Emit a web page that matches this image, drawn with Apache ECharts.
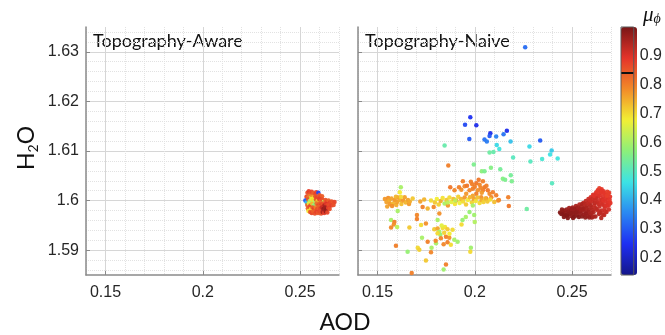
<!DOCTYPE html>
<html>
<head>
<meta charset="utf-8">
<script src="https://cdn.jsdelivr.net/npm/echarts@6/dist/echarts.min.js"></script>
<style>
  html, body { margin: 0; padding: 0; background: #ffffff; }
  #chart { width: 665px; height: 335px; }
</style>
</head>
<body>
<div id="chart"></div>
<script>
// Axis ranges shared by both panels
const xRange = [0.14, 0.27];
const yRange = [1.585, 1.635];
const muRange = [0.14, 1.0];
// Major tick positions
const xMajorTicks = [0.15, 0.2, 0.25];
const yMajorTicks = [1.59, 1.6, 1.61, 1.62, 1.63];
// Threshold drawn across the colour bar
const muMarker = 0.84;
const panelTitles = ['Topography-Aware', 'Topography-Naive'];

// [AOD, H2O, mu_phi] for the topography-aware retrieval
const awarePoints = [
  [0.2538,1.6016,0.86],[0.2545,1.6019,0.88],[0.2552,1.6014,0.85],[0.2560,1.6018,0.87],[0.2568,1.6015,0.84],
  [0.2575,1.6012,0.86],[0.2583,1.6017,0.88],[0.2594,1.6016,0.28],[0.2600,1.6011,0.85],
  [0.2533,1.6008,0.87],[0.2540,1.6006,0.83],[0.2548,1.6009,0.80],[0.2556,1.6005,0.62],[0.2563,1.6008,0.78],
  [0.2571,1.6006,0.72],[0.2579,1.6009,0.86],[0.2587,1.6005,0.88],[0.2596,1.6008,0.85],[0.2605,1.6006,0.87],
  [0.2613,1.6009,0.84],
  [0.2527,1.6000,0.30],[0.2534,1.5996,0.42],[0.2542,1.6002,0.85],[0.2550,1.5999,0.58],[0.2558,1.6003,0.68],
  [0.2566,1.6000,0.70],[0.2574,1.5997,0.62],[0.2582,1.6002,0.86],[0.2590,1.5999,0.72],[0.2598,1.6003,0.88],
  [0.2606,1.5998,0.83],[0.2614,1.6002,0.86],[0.2622,1.5997,0.63],[0.2630,1.6001,0.85],[0.2638,1.5998,0.87],
  [0.2646,1.6000,0.84],[0.2654,1.5996,0.88],[0.2662,1.5998,0.86],[0.2670,1.5995,0.85],[0.2677,1.5997,0.87],
  [0.2537,1.5991,0.84],[0.2545,1.5994,0.66],[0.2553,1.5990,0.86],[0.2561,1.5993,0.74],[0.2569,1.5990,0.60],
  [0.2577,1.5992,0.56],[0.2585,1.5994,0.82],[0.2593,1.5990,0.87],[0.2601,1.5993,0.85],[0.2609,1.5991,0.88],
  [0.2617,1.5994,0.86],[0.2625,1.5990,0.95],[0.2633,1.5993,0.90],[0.2641,1.5991,0.87],[0.2649,1.5989,0.86],
  [0.2660,1.5990,0.88],[0.2672,1.5991,0.86],
  [0.2540,1.5984,0.83],[0.2548,1.5987,0.86],[0.2556,1.5983,0.70],[0.2564,1.5986,0.85],[0.2572,1.5983,0.88],
  [0.2580,1.5986,0.80],[0.2588,1.5983,0.86],[0.2596,1.5987,0.84],[0.2604,1.5984,0.87],[0.2612,1.5986,0.92],
  [0.2620,1.5983,0.97],[0.2628,1.5986,0.96],[0.2636,1.5982,0.98],[0.2644,1.5985,0.88],[0.2652,1.5983,0.86],
  [0.2543,1.5979,0.69],[0.2552,1.5977,0.85],[0.2560,1.5975,0.87],[0.2568,1.5978,0.84],[0.2576,1.5974,0.86],
  [0.2584,1.5977,0.88],[0.2592,1.5975,0.85],[0.2600,1.5978,0.87],[0.2608,1.5974,0.86],[0.2616,1.5977,0.95],
  [0.2624,1.5975,0.88],[0.2632,1.5978,0.97],[0.2640,1.5976,0.87]
];

// [AOD, H2O, mu_phi] for the topography-naive retrieval
const naivePoints = [
  // isolated high-H2O point
  [0.2259,1.6309,0.32],
  // low-mu group
  [0.1977,1.6168,0.25],[0.1950,1.6153,0.28],[0.2008,1.6152,0.24],[0.1972,1.6124,0.30],[0.2080,1.6136,0.24],
  [0.2076,1.6130,0.30],[0.2050,1.6123,0.33],[0.2062,1.6119,0.34],[0.2110,1.6129,0.35],[0.2148,1.6134,0.33],
  [0.2165,1.6141,0.24],[0.2336,1.6121,0.30],
  [0.2113,1.6112,0.45],[0.2126,1.6104,0.47],[0.2184,1.6119,0.42],[0.2281,1.6109,0.45],[0.2395,1.6101,0.43],
  [0.2387,1.6093,0.46],[0.2426,1.6085,0.47],[0.2346,1.6084,0.48],[0.2286,1.6079,0.50],[0.2197,1.6087,0.50],
  [0.2076,1.6097,0.53],[0.2096,1.6098,0.52],[0.1845,1.6111,0.52],[0.2397,1.6035,0.50],[0.2267,1.5983,0.53],
  [0.1995,1.6073,0.55],[0.2036,1.6059,0.57],[0.2050,1.6059,0.55],[0.2083,1.6066,0.56],[0.2131,1.6063,0.54],
  [0.2144,1.6044,0.56],[0.2156,1.6042,0.55],[0.2185,1.6051,0.54],[0.2190,1.6039,0.55],
  [0.1864,1.6071,0.80],
  // central orange group
  [0.1939,1.6039,0.80],[0.1948,1.6029,0.79],[0.1987,1.6033,0.80],[0.2008,1.6035,0.81],[0.2025,1.6032,0.79],
  [0.2042,1.6039,0.80],[0.2050,1.6027,0.81],[0.1990,1.6024,0.80],[0.2016,1.6021,0.78],[0.1973,1.6021,0.79],
  [0.2042,1.6021,0.80],[0.2067,1.6021,0.81],[0.2076,1.6014,0.79],[0.2093,1.6017,0.80],[0.1931,1.6022,0.78],
  [0.1919,1.6027,0.80],[0.1874,1.6027,0.81],[0.1896,1.6021,0.79],[0.1956,1.6014,0.77],[0.2008,1.6014,0.80],
  [0.2033,1.6007,0.78],[0.2059,1.6004,0.80],[0.2085,1.6007,0.79],[0.2110,1.6011,0.80],[0.2124,1.6001,0.80],
  [0.2175,1.5989,0.81],[0.2172,1.6007,0.80],[0.1960,1.6030,0.81],[0.2000,1.6028,0.80],[0.2030,1.6026,0.79],
  [0.1980,1.6038,0.80],[0.2020,1.6042,0.81],[0.2060,1.6030,0.80],[0.2036,1.6016,0.77],[0.1990,1.6010,0.76],
  // yellow band near H2O = 1.6
  [0.1720,1.5998,0.76],[0.1740,1.6002,0.74],[0.1758,1.5984,0.74],[0.1789,1.5987,0.79],[0.1775,1.6000,0.70],
  [0.1795,1.5996,0.72],[0.1805,1.6003,0.68],[0.1815,1.5992,0.71],[0.1825,1.5999,0.75],[0.1835,1.6005,0.69],
  [0.1845,1.5994,0.60],[0.1855,1.6001,0.72],[0.1862,1.5990,0.77],[0.1870,1.6006,0.70],[0.1880,1.5997,0.66],
  [0.1890,1.6003,0.73],[0.1898,1.5993,0.69],[0.1905,1.6000,0.75],[0.1915,1.6008,0.71],[0.1922,1.5995,0.67],
  [0.1930,1.6003,0.74],[0.1940,1.5998,0.70],[0.1948,1.6006,0.77],[0.1955,1.5992,0.72],[0.1965,1.6001,0.68],
  [0.1975,1.6007,0.74],[0.1985,1.5996,0.71],[0.1995,1.6003,0.76],[0.2005,1.5999,0.69],[0.2015,1.6006,0.73],
  [0.2025,1.5995,0.70],[0.2035,1.6001,0.75],[0.2045,1.5997,0.71],[0.2055,1.6004,0.74],[0.2065,1.5998,0.72],
  [0.2080,1.6002,0.70],[0.2100,1.5997,0.73],[0.2120,1.6000,0.78],[0.1818,1.5974,0.78],[0.1809,1.5961,0.60],
  [0.1937,1.5961,0.58],[0.1954,1.5967,0.60],[0.1932,1.5952,0.70],[0.1997,1.5971,0.59],[0.2000,1.5957,0.61],
  [0.1973,1.5977,0.58],[0.1990,1.5990,0.60],[0.1900,1.6000,0.62],[0.1860,1.5996,0.62],
  // low-AOD group
  [0.1538,1.6003,0.77],[0.1546,1.5997,0.76],[0.1555,1.6005,0.78],[0.1560,1.6000,0.75],[0.1563,1.5993,0.77],
  [0.1572,1.6004,0.76],[0.1580,1.5994,0.74],[0.1589,1.6001,0.77],[0.1597,1.5991,0.75],[0.1601,1.5997,0.76],
  [0.1606,1.6006,0.77],[0.1615,1.6001,0.75],[0.1623,1.5993,0.73],[0.1632,1.6000,0.77],[0.1640,1.6007,0.76],
  [0.1645,1.5996,0.74],[0.1657,1.6001,0.76],[0.1662,1.5993,0.77],[0.1666,1.5998,0.75],[0.1550,1.5988,0.76],
  [0.1575,1.5989,0.78],[0.1595,1.6008,0.74],[0.1681,1.6004,0.72],[0.1620,1.6008,0.70],[0.1620,1.6027,0.60],
  [0.1615,1.6017,0.68],
  // low-H2O scatter
  [0.1604,1.5979,0.60],[0.1570,1.5961,0.60],[0.1587,1.5957,0.80],[0.1584,1.5952,0.78],[0.1601,1.5947,0.62],
  [0.1570,1.5946,0.79],[0.1595,1.5909,0.80],[0.1664,1.5946,0.72],[0.1655,1.5897,0.58],[0.1703,1.5971,0.79],
  [0.1703,1.5963,0.80],[0.1732,1.5987,0.80],[0.1749,1.5954,0.78],[0.1724,1.5951,0.70],[0.1707,1.5905,0.70],
  [0.1715,1.5901,0.71],[0.1729,1.5925,0.60],[0.1749,1.5879,0.72],[0.1758,1.5917,0.80],[0.1778,1.5905,0.60],
  [0.1775,1.5896,0.79],[0.1792,1.5942,0.72],[0.1809,1.5944,0.76],[0.1818,1.5937,0.60],[0.1823,1.5931,0.58],
  [0.1835,1.5945,0.70],[0.1847,1.5947,0.69],[0.1860,1.5942,0.72],[0.1826,1.5924,0.79],[0.1852,1.5927,0.80],
  [0.1869,1.5925,0.78],[0.1886,1.5941,0.70],[0.1895,1.5921,0.60],[0.1840,1.5912,0.79],[0.1860,1.5916,0.80],
  [0.1877,1.5911,0.70],[0.1801,1.5914,0.60],[0.1809,1.5934,0.70],[0.1912,1.5917,0.59],[0.1852,1.5871,0.80],
  [0.1840,1.5861,0.59],[0.1676,1.5854,0.80],[0.1980,1.5905,0.59],[0.1977,1.5897,0.70],[0.1799,1.5919,0.79],
  [0.1843,1.5935,0.71],[0.1870,1.5933,0.68],[0.1830,1.5950,0.66],
  // high-AOD red group
  [0.2438,1.5976,0.99],[0.2445,1.5973,0.99],[0.2450,1.5978,0.98],[0.2455,1.5974,0.99],[0.2460,1.5980,0.98],
  [0.2462,1.5971,0.99],[0.2468,1.5976,0.98],[0.2472,1.5982,0.97],[0.2475,1.5970,0.99],[0.2480,1.5978,0.98],
  [0.2485,1.5985,0.96],[0.2488,1.5973,0.99],[0.2492,1.5980,0.97],[0.2496,1.5969,0.98],[0.2500,1.5976,0.99],
  [0.2503,1.5986,0.96],[0.2507,1.5972,0.98],[0.2510,1.5981,0.97],[0.2514,1.5968,0.99],[0.2518,1.5977,0.98],
  [0.2520,1.5989,0.95],[0.2524,1.5984,0.96],[0.2527,1.5971,0.98],[0.2531,1.5978,0.97],[0.2535,1.5967,0.99],
  [0.2538,1.5992,0.94],[0.2541,1.5983,0.96],[0.2545,1.5974,0.97],[0.2548,1.5988,0.95],[0.2551,1.5968,0.98],
  [0.2555,1.5980,0.96],[0.2558,1.5995,0.93],[0.2561,1.5972,0.97],[0.2565,1.5986,0.95],[0.2568,1.5966,0.98],
  [0.2571,1.5999,0.93],[0.2574,1.5978,0.96],[0.2577,1.5990,0.94],[0.2580,1.5969,0.97],[0.2584,1.6003,0.92],
  [0.2587,1.5982,0.95],[0.2590,1.5994,0.93],[0.2593,1.5972,0.96],[0.2596,1.6007,0.91],[0.2599,1.5986,0.94],
  [0.2602,1.5966,0.96],[0.2605,1.5998,0.92],[0.2608,1.6012,0.90],[0.2611,1.5977,0.94],[0.2614,1.5990,0.92],
  [0.2617,1.6005,0.91],[0.2620,1.5968,0.95],[0.2623,1.6016,0.90],[0.2626,1.5983,0.93],[0.2629,1.5996,0.92],
  [0.2632,1.6021,0.89],[0.2635,1.6009,0.90],[0.2638,1.5973,0.94],[0.2641,1.5988,0.92],[0.2644,1.6001,0.91],
  [0.2647,1.6016,0.90],[0.2650,1.5965,0.94],[0.2653,1.5980,0.92],[0.2656,1.5993,0.91],[0.2659,1.6008,0.90],
  [0.2662,1.6019,0.89],[0.2665,1.5971,0.93],[0.2668,1.5985,0.91],[0.2671,1.5998,0.90],[0.2674,1.6012,0.89],
  [0.2677,1.5977,0.92],[0.2680,1.5990,0.90],[0.2683,1.6004,0.89],[0.2686,1.6014,0.88],[0.2689,1.5982,0.91],
  [0.2692,1.5995,0.90],[0.2695,1.6008,0.89],
  [0.2470,1.5970,0.99],[0.2490,1.5976,0.98],[0.2515,1.5983,0.97],[0.2540,1.5978,0.97],[0.2560,1.5983,0.96],
  [0.2575,1.5985,0.95],[0.2585,1.5977,0.96],[0.2595,1.5990,0.94],[0.2606,1.5981,0.94],[0.2616,1.5995,0.93],
  [0.2625,1.6005,0.92],[0.2636,1.5993,0.92],[0.2645,1.5976,0.93],[0.2655,1.6002,0.91],[0.2664,1.5990,0.91],
  [0.2673,1.6004,0.90],[0.2684,1.5996,0.90],[0.2693,1.6001,0.89],[0.2667,1.6015,0.89],[0.2652,1.6023,0.89],
  [0.2640,1.6025,0.88],
  [0.2448,1.5982,0.98],[0.2458,1.5967,0.99],[0.2478,1.5965,0.99],[0.2498,1.5983,0.97],[0.2505,1.5965,0.99],
  [0.2522,1.5976,0.98],[0.2530,1.5986,0.96],[0.2546,1.5982,0.96],[0.2552,1.5993,0.95],[0.2566,1.5993,0.94],
  [0.2570,1.5974,0.97],[0.2582,1.5995,0.93],[0.2588,1.5966,0.97],[0.2592,1.6000,0.92],[0.2600,1.5975,0.95],
  [0.2603,1.6003,0.92],[0.2610,1.5968,0.95],[0.2613,1.6010,0.90],[0.2619,1.5985,0.93],[0.2622,1.6000,0.92],
  [0.2628,1.6013,0.90],[0.2633,1.5980,0.93],[0.2642,1.6010,0.90],[0.2648,1.5995,0.91],[0.2657,1.5972,0.93],
  [0.2660,1.6000,0.90],[0.2670,1.5978,0.92],[0.2676,1.5990,0.90],[0.2679,1.6010,0.88],[0.2688,1.5990,0.90],
  [0.2697,1.5995,0.89],[0.2690,1.6016,0.88],[0.2681,1.6018,0.88],[0.2657,1.6016,0.89],[0.2645,1.6020,0.89],
  [0.2630,1.6018,0.89]
];

// Jet colour map, slightly softened
const jetColors = ['#14168a', '#1e2ef2', '#2a88f2', '#3ce4e4', '#8cf07a', '#f2ef34', '#f28a28', '#e4342a', '#7a1616'];

const MAJOR = '#d6d6d6';
const MINOR = '#e2e2e2';
const AXIS = '#8a8a8a';
const TEXT = '#262626';
const NONE = 'rgba(0,0,0,0)';
const TICK_FONT = '"Liberation Sans", Arial, sans-serif';
const LABEL_FONT = 'Lato, "Open Sans", sans-serif';

// Grid rectangles: two panels and the colour bar
const panels = [
  { left: 86, top: 27, width: 253, height: 248 },
  { left: 358, top: 27, width: 253, height: 248 }
];
const barBox = { left: 621, top: 27, width: 16, height: 248 };

function fmtStep(every) {
  return function (v) {
    const r = Math.round(v * 100);
    if (Math.abs(v * 100 - r) > 1e-6 || r % every !== 0) return '';
    return String(r / 100);
  };
}

const xAxes = [];
const yAxes = [];
panels.forEach(function (p, i) {
  // dotted minor grid every 0.01, skipping the major positions
  xAxes.push({
    gridIndex: i, type: 'value', min: xRange[0], max: xRange[1], interval: 0.01, position: 'bottom',
    axisLine: { show: false }, axisTick: { show: false }, axisLabel: { show: false },
    splitLine: { show: true, lineStyle: { color: [MINOR, NONE, MINOR, MINOR, MINOR], type: 'dotted', width: 1 } }
  });
  // major axis: solid grid, ticks and labels at the major positions
  xAxes.push({
    gridIndex: i, type: 'value', min: xRange[0], max: xRange[1], interval: 0.01, position: 'bottom',
    axisLine: { show: true, onZero: false, lineStyle: { color: AXIS, width: 1.5 } },
    axisTick: { show: true, inside: true, length: 4, customValues: xMajorTicks, lineStyle: { color: AXIS } },
    axisLabel: { show: true, formatter: fmtStep(5), fontSize: 16, margin: 10, color: TEXT, fontFamily: TICK_FONT },
    splitLine: { show: true, lineStyle: { color: MAJOR, width: 1 } }
  });
  // y minor grid every 0.002
  yAxes.push({
    gridIndex: i, type: 'value', min: yRange[0], max: yRange[1], interval: 0.001, position: 'left',
    axisLine: { show: false }, axisTick: { show: false }, axisLabel: { show: false },
    splitLine: { show: true, lineStyle: { color: [NONE, MINOR, NONE, MINOR, NONE, NONE, NONE, MINOR, NONE, MINOR], type: 'dotted', width: 1 } }
  });
  yAxes.push({
    gridIndex: i, type: 'value', min: yRange[0], max: yRange[1], interval: 0.001, position: 'left',
    axisLine: { show: true, onZero: false, lineStyle: { color: AXIS, width: 1.5 } },
    axisTick: { show: true, inside: true, length: 4, customValues: yMajorTicks, lineStyle: { color: AXIS } },
    axisLabel: { show: i === 0, formatter: fmtStep(1), fontSize: 16, margin: 7, color: TEXT, fontFamily: TICK_FONT },
    splitLine: { show: true, lineStyle: { color: MAJOR, width: 1 } }
  });
});

// colour bar axes
xAxes.push({ gridIndex: 2, type: 'value', min: 0, max: 1, show: false });
yAxes.push({
  gridIndex: 2, type: 'value', min: muRange[0], max: muRange[1], interval: 0.01, position: 'right',
  axisLine: { show: false }, axisTick: { show: false }, splitLine: { show: false },
  axisLabel: {
    show: true, margin: 6, fontSize: 16, color: TEXT, fontFamily: TICK_FONT,
    formatter: function (v) {
      const r = Math.round(v * 100);
      if (Math.abs(v * 100 - r) > 1e-6 || r % 10 !== 0 || r >= 100) return '';
      return String(r / 100);
    }
  }
});

const option = {
  animation: false,
  backgroundColor: '#ffffff',
  grid: [
    Object.assign({ show: false, containLabel: false }, panels[0]),
    Object.assign({ show: false, containLabel: false }, panels[1]),
    Object.assign({ show: true, z: 10, containLabel: false, backgroundColor: NONE, borderColor: '#5a5a5a', borderWidth: 1 }, barBox)
  ],
  xAxis: xAxes,
  yAxis: yAxes,
  visualMap: {
    type: 'continuous',
    min: muRange[0], max: muRange[1],
    dimension: 2,
    seriesIndex: [0, 1],
    left: barBox.left, top: barBox.top,
    itemWidth: barBox.width, itemHeight: barBox.height,
    padding: 0,
    calculable: false,
    hoverLink: false,
    inRange: { color: jetColors }
  },
  graphic: [
    { type: 'text', x: 93, y: 41, style: { text: panelTitles[0], fill: '#111', font: '18px ' + LABEL_FONT, align: 'left', verticalAlign: 'middle' } },
    { type: 'text', x: 365, y: 41, style: { text: panelTitles[1], fill: '#111', font: '18px ' + LABEL_FONT, align: 'left', verticalAlign: 'middle' } },
    { type: 'text', x: 345, y: 323, style: { text: 'AOD', fill: '#111', font: '23px ' + LABEL_FONT, align: 'center', verticalAlign: 'middle' } },
    {
      type: 'text', x: 27, y: 148, rotation: Math.PI / 2,
      style: {
        text: '{m|H}{s|2}{m|O}', fill: '#111', align: 'center', verticalAlign: 'middle',
        rich: {
          m: { fontSize: 23, fontFamily: LABEL_FONT, lineHeight: 26, fill: '#111' },
          s: { fontSize: 14, fontFamily: LABEL_FONT, lineHeight: 14, verticalAlign: 'bottom', fill: '#111' }
        }
      }
    },
    {
      type: 'text', x: 643, y: 15,
      style: {
        text: '{m|μ}{s|ϕ}', fill: '#111', align: 'left', verticalAlign: 'middle',
        rich: {
          m: { fontSize: 21, fontStyle: 'italic', fontFamily: '"Liberation Serif", serif', lineHeight: 22, fill: '#111' },
          s: { fontSize: 14, fontStyle: 'italic', fontFamily: '"Liberation Serif", serif', lineHeight: 14, verticalAlign: 'bottom', fill: '#111' }
        }
      }
    }
  ],
  series: [
    { type: 'scatter', xAxisIndex: 1, yAxisIndex: 1, data: awarePoints, symbolSize: 4.5, itemStyle: { opacity: 0.95 } },
    { type: 'scatter', xAxisIndex: 3, yAxisIndex: 3, data: naivePoints, symbolSize: 4.5, itemStyle: { opacity: 0.95 } },
    {
      type: 'line', xAxisIndex: 4, yAxisIndex: 4, data: [], z: 20,
      markLine: {
        silent: true, symbol: ['none', 'none'], label: { show: false },
        lineStyle: { color: '#111', width: 2, type: 'solid' },
        data: [{ yAxis: muMarker }]
      }
    }
  ]
};

const chart = echarts.init(document.getElementById('chart'), null, { renderer: 'canvas' });
chart.setOption(option);
</script>
</body>
</html>
